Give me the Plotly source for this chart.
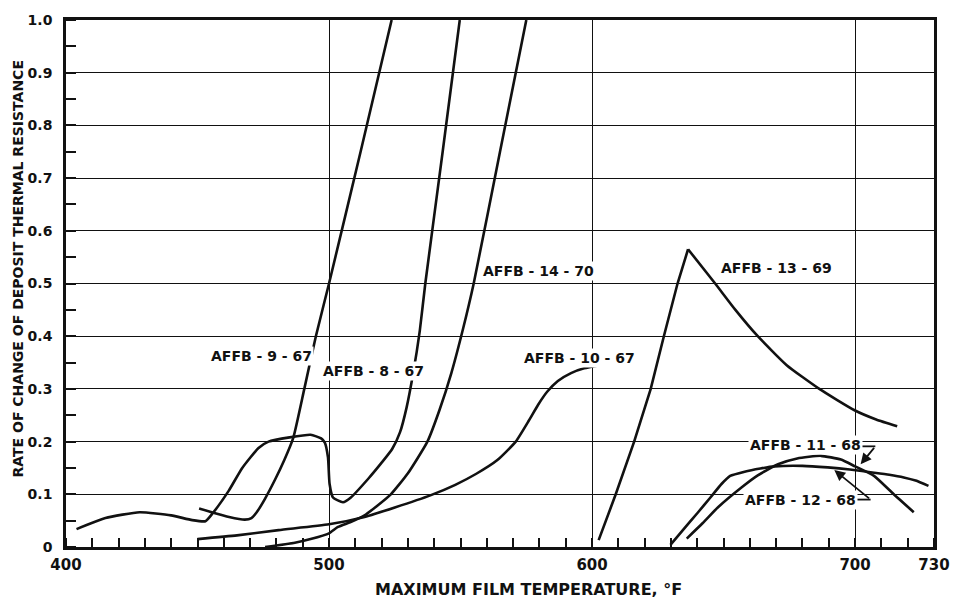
import plotly.graph_objects as go

# Rate of change of deposit thermal resistance vs. maximum film temperature
x_9_67 = [450.6, 456, 462, 468, 470.5, 472.5, 475.7, 479.5, 483, 486.4, 490.6, 495, 500, 512, 523.8]
y_9_67 = [0.073, 0.065, 0.057, 0.052, 0.055, 0.066, 0.092, 0.128, 0.165, 0.207, 0.30, 0.40, 0.50, 0.75, 1.0]

x_8_67 = [404, 415, 428, 440, 448, 453, 455.6, 461.9, 467, 473.2, 477, 485, 493, 497, 498.4, 499.6, 500.2, 501.5,
          505.3, 508.3, 515, 520, 524, 527, 529.5, 532, 534.5, 536.6, 543.2, 549.7]
y_8_67 = [0.034, 0.055, 0.066, 0.060, 0.051, 0.049, 0.063, 0.107, 0.150, 0.188, 0.200, 0.208, 0.213, 0.206, 0.198, 0.17, 0.12, 0.094,
          0.085, 0.094, 0.13, 0.16, 0.186, 0.218, 0.265, 0.33, 0.41, 0.50, 0.75, 1.0]

x_14_70 = [475.7, 487, 493, 500, 503.4, 508, 513.5, 518, 523.5, 530, 537.4, 542, 546.5, 551, 555, 565, 575]
y_14_70 = [0.0, 0.008, 0.015, 0.026, 0.038, 0.047, 0.060, 0.077, 0.100, 0.14, 0.20, 0.26, 0.33, 0.415, 0.50, 0.75, 1.0]

x_10_67 = [450, 465, 480.8, 500, 513.5, 525, 538.5, 548, 556, 564, 571, 576, 579.5, 583, 587, 592, 597, 603]
y_10_67 = [0.015, 0.022, 0.032, 0.043, 0.057, 0.075, 0.098, 0.118, 0.139, 0.165, 0.20, 0.24, 0.27, 0.295, 0.315, 0.330, 0.339, 0.345]

x_13_69 = [602.5, 609, 616, 622.3, 627.3, 632.5, 636.5, 646.8, 654.5, 663, 674, 686.4, 699.6, 708, 716]
y_13_69 = [0.013, 0.10, 0.20, 0.30, 0.40, 0.50, 0.565, 0.50, 0.45, 0.40, 0.345, 0.30, 0.26, 0.242, 0.229]
PEAK_13_69 = 6  # index of the sharp apex

x_12_68 = [629.8, 635, 640, 645, 649.3, 652.5, 658, 664, 669.4, 680, 689.6, 698, 707.2, 713, 718.5, 723, 727.9]
y_12_68 = [0.004, 0.035, 0.064, 0.094, 0.12, 0.135, 0.143, 0.149, 0.153, 0.154, 0.151, 0.147, 0.141, 0.137, 0.132, 0.126, 0.116]

x_11_68 = [636, 642, 648, 656.8, 663, 670.7, 678, 687, 694.6, 700, 707.2, 714.7, 722.3]
y_11_68 = [0.016, 0.045, 0.076, 0.113, 0.136, 0.157, 0.168, 0.173, 0.166, 0.153, 0.135, 0.10, 0.066]

x_tick_vals = [400, 500, 600, 700, 730]
x_tick_text = ["400", "500", "600", "700", "730"]
y_tick_vals = [0, 0.1, 0.2, 0.3, 0.4, 0.5, 0.6, 0.7, 0.8, 0.9, 1.0]
y_tick_text = ["0", "0.1", "0.2", "0.3", "0.4", "0.5", "0.6", "0.7", "0.8", "0.9", "1.0"]

# label text, left edge (x), vertical centre (y)
labels = [
    ("AFFB - 9 - 67", 454.3, 0.362),
    ("AFFB - 8 - 67", 497.0, 0.334),
    ("AFFB - 14 - 70", 557.6, 0.523),
    ("AFFB - 10 - 67", 573.2, 0.358),
    ("AFFB - 13 - 69", 648.2, 0.529),
    ("AFFB - 11 - 68", 659.2, 0.193),
    ("AFFB - 12 - 68", 657.4, 0.090),
]

FONT = "DejaVu Sans"
INK = "#111111"

fig = go.Figure()


def add_curve(xs, ys, shape):
    fig.add_trace(go.Scatter(
        x=xs, y=ys, mode="lines",
        line=dict(color=INK, width=2.6, shape=shape, smoothing=0.5 if shape == "spline" else None),
        showlegend=False, hoverinfo="skip",
    ))


add_curve(x_9_67, y_9_67, "spline")
add_curve(x_8_67, y_8_67, "spline")
add_curve(x_14_70, y_14_70, "spline")
add_curve(x_10_67, y_10_67, "spline")
add_curve(x_13_69[:PEAK_13_69 + 1], y_13_69[:PEAK_13_69 + 1], "linear")
add_curve(x_13_69[PEAK_13_69:], y_13_69[PEAK_13_69:], "spline")
add_curve(x_12_68, y_12_68, "spline")
add_curve(x_11_68, y_11_68, "spline")

for text, lx, ly in labels:
    fig.add_annotation(
        x=lx, y=ly, xref="x", yref="y", text=text, showarrow=False,
        xanchor="left", yanchor="middle", bgcolor="white", borderpad=1,
        font=dict(family=FONT, size=14, color=INK, weight="bold"),
    )

# leader lines for the two lower labels
fig.add_shape(type="line", xref="x", yref="y", x0=700.2, y0=0.191, x1=707.7, y1=0.191,
              line=dict(color=INK, width=1.8))
fig.add_annotation(x=702.1, y=0.157, ax=707.7, ay=0.191, xref="x", yref="y", axref="x", ayref="y",
                   text="", showarrow=True, arrowhead=2, arrowsize=1.2, arrowwidth=1.8, arrowcolor=INK,
                   standoff=0, startstandoff=0)
fig.add_shape(type="line", xref="x", yref="y", x0=698.9, y0=0.090, x1=705.9, y1=0.090,
              line=dict(color=INK, width=1.8))
fig.add_annotation(x=692.1, y=0.146, ax=705.9, ay=0.090, xref="x", yref="y", axref="x", ayref="y",
                   text="", showarrow=True, arrowhead=2, arrowsize=1.2, arrowwidth=1.8, arrowcolor=INK,
                   standoff=0, startstandoff=0)

# axis titles
fig.add_annotation(
    x=-0.055, y=0.527, xref="paper", yref="paper", text="RATE OF CHANGE OF DEPOSIT THERMAL RESISTANCE",
    textangle=-90, showarrow=False, xanchor="center", yanchor="middle",
    font=dict(family=FONT, size=14, color=INK, weight="bold"),
)
fig.add_annotation(
    x=0.533, y=-0.081, xref="paper", yref="paper", text="MAXIMUM FILM TEMPERATURE, °F",
    showarrow=False, xanchor="center", yanchor="middle",
    font=dict(family=FONT, size=16, color=INK, weight="bold"),
)

fig.update_xaxes(
    range=[400, 730], tickmode="array", tickvals=x_tick_vals, ticktext=x_tick_text,
    ticks="", ticklabelstandoff=2,
    showgrid=True, gridcolor=INK, gridwidth=1.3,
    showline=True, linecolor=INK, linewidth=2.6, mirror=True, zeroline=False,
    tickfont=dict(family=FONT, size=15, color=INK, weight="bold"),
    minor=dict(tickmode="linear", tick0=400, dtick=10, ticks="inside", ticklen=9,
               tickwidth=2, tickcolor=INK, showgrid=False),
)
fig.update_yaxes(
    range=[0, 1.0], tickmode="array", tickvals=y_tick_vals, ticktext=y_tick_text,
    ticks="", ticklabelstandoff=8,
    showgrid=True, gridcolor=INK, gridwidth=1.3,
    showline=True, linecolor=INK, linewidth=2.6, mirror=True, zeroline=False,
    tickfont=dict(family=FONT, size=14, color=INK, weight="bold"),
    minor=dict(tickmode="linear", tick0=0, dtick=0.05, ticks="inside", ticklen=10,
               tickwidth=2, tickcolor=INK, showgrid=False),
)

fig.update_layout(
    width=962, height=598,
    margin=dict(l=66, r=22, t=14, b=51),
    paper_bgcolor="white", plot_bgcolor="white",
    showlegend=False,
)

fig.write_html("out.html")
